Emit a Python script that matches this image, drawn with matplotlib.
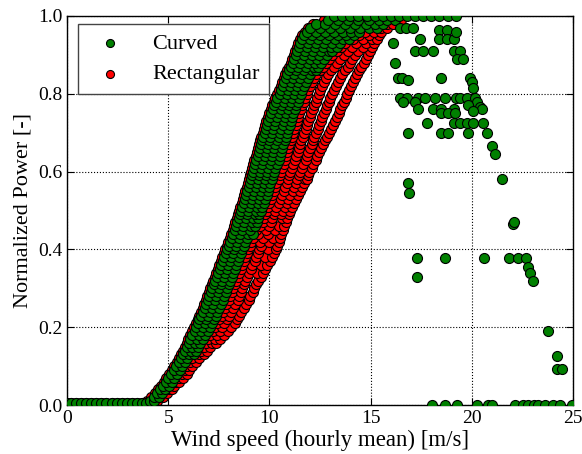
import matplotlib.pyplot as plt

plt.rcParams['font.family'] = ['Liberation Serif', 'DejaVu Serif']

# dense band, one row per power level: wind speeds
band_y = [0.01, 0.02, 0.03, 0.04, 0.05, 0.06, 0.07, 0.08, 0.09, 0.10,
          0.11, 0.12, 0.13, 0.14, 0.15, 0.16, 0.17, 0.18, 0.19, 0.20,
          0.21, 0.22, 0.23, 0.24, 0.25, 0.26, 0.27, 0.28, 0.29, 0.30,
          0.31, 0.32, 0.33, 0.34, 0.35, 0.36, 0.37, 0.38, 0.39, 0.40,
          0.41, 0.42, 0.43, 0.44, 0.45, 0.46, 0.47, 0.48, 0.49, 0.50,
          0.51, 0.52, 0.53, 0.54, 0.55, 0.56, 0.57, 0.58, 0.59, 0.60,
          0.61, 0.62, 0.63, 0.64, 0.65, 0.66, 0.67, 0.68, 0.69, 0.70,
          0.71, 0.72, 0.73, 0.74, 0.75, 0.76, 0.77, 0.78, 0.79, 0.80,
          0.81, 0.82, 0.83, 0.84, 0.85, 0.86, 0.87, 0.88, 0.89, 0.90,
          0.91, 0.92, 0.93, 0.94, 0.95, 0.96, 0.97, 0.98, 0.99, 1.0]

curved_x = [
    [4.1, 4.3], [4.3, 4.55], [4.45, 4.7], [4.6, 4.85], [4.75, 5.05],
    [4.9, 5.2], [5.0, 5.3], [5.15, 5.45], [5.3, 5.6], [5.4, 5.7],
    [5.55, 5.85], [5.65, 5.95], [5.75, 6.05, 6.25], [5.85, 6.15, 6.35],
    [5.95, 6.2, 6.45], [6.05, 6.3, 6.55], [6.1, 6.4, 6.7], [6.2, 6.5, 6.8],
    [6.3, 6.6, 6.95], [6.35, 6.7, 7.05], [6.45, 6.8, 7.15], [6.5, 6.85, 7.25],
    [6.6, 6.95, 7.35], [6.7, 7.05, 7.4], [6.8, 7.15, 7.5], [6.85, 7.2, 7.6],
    [6.95, 7.3, 7.7], [7.0, 7.35, 7.75], [7.1, 7.45, 7.85], [7.15, 7.5, 7.9],
    [7.25, 7.6, 8.0], [7.3, 7.65, 8.05], [7.4, 7.75, 8.15], [7.45, 7.8, 8.2],
    [7.55, 7.9, 8.3], [7.6, 7.95, 8.35], [7.7, 8.05, 8.45], [7.75, 8.1, 8.5],
    [7.85, 8.2, 8.6], [7.9, 8.25, 8.65], [8.0, 8.35, 8.75], [8.05, 8.4, 8.8],
    [8.15, 8.5, 8.9], [8.2, 8.55, 8.95, 9.2], [8.3, 8.65, 9.05],
    [8.35, 8.7, 9.1, 9.3], [8.4, 8.75, 9.15, 9.4], [8.5, 8.85, 9.2, 9.45],
    [8.55, 8.9, 9.3, 9.5], [8.6, 8.95, 9.35, 9.6], [8.65, 9.0, 9.4, 9.65],
    [8.75, 9.1, 9.45, 9.75], [8.8, 9.15, 9.5, 9.8], [8.85, 9.2, 9.55, 9.9],
    [8.9, 9.25, 9.6, 9.95], [9.0, 9.35, 9.7, 10.0], [9.05, 9.4, 9.75, 10.05],
    [9.1, 9.45, 9.8, 10.15], [9.15, 9.5, 9.85, 10.2], [9.2, 9.55, 9.9, 10.25],
    [9.25, 9.6, 9.95, 10.3], [9.3, 9.65, 10.05, 10.4], [9.35, 9.7, 10.1, 10.45],
    [9.45, 9.8, 10.15, 10.5], [9.5, 9.85, 10.2, 10.55], [9.55, 9.9, 10.25, 10.6],
    [9.6, 9.95, 10.3, 10.65], [9.65, 10.0, 10.4, 10.75], [9.7, 10.05, 10.45, 10.8],
    [9.8, 10.15, 10.5, 10.85], [9.85, 10.2, 10.55, 10.9], [9.9, 10.25, 10.65, 11.0],
    [9.95, 10.3, 10.7, 11.05], [10.05, 10.4, 10.75, 11.1], [10.1, 10.45, 10.8, 11.15],
    [10.2, 10.55, 10.9, 11.25], [10.25, 10.6, 10.95, 11.3], [10.35, 10.7, 11.05, 11.4],
    [10.4, 10.75, 11.1, 11.45], [10.5, 10.85, 11.2, 11.55], [10.55, 10.9, 11.25, 11.6],
    [10.65, 11.0, 11.35, 11.7], [10.7, 11.05, 11.4, 11.8], [10.8, 11.15, 11.5, 11.9],
    [10.85, 11.2, 11.6, 12.0], [10.95, 11.3, 11.7, 12.1, 12.3],
    [11.05, 11.4, 11.8, 12.2, 12.4], [11.15, 11.5, 11.9, 12.25, 12.55],
    [11.2, 11.6, 12.0, 12.35, 12.7], [11.3, 11.7, 12.1, 12.45, 12.85],
    [11.35, 11.75, 12.15, 12.55, 12.95, 13.1],
    [11.45, 11.85, 12.25, 12.65, 13.05, 13.35],
    [11.5, 11.9, 12.3, 12.7, 13.1, 13.5],
    [11.6, 12.0, 12.4, 12.8, 13.25, 13.65, 13.95],
    [11.7, 12.1, 12.5, 12.95, 13.4, 13.8, 14.2],
    [11.85, 12.3, 12.75, 13.2, 13.65, 14.05, 14.45],
    [12.0, 12.5, 13.0, 13.5, 14.0, 14.5, 14.9, 15.3],
    [12.3, 12.75, 13.25, 13.75, 14.25, 14.75, 15.2, 15.6],
    [12.9, 13.4, 13.9, 14.4, 14.9, 15.4, 15.8, 16.2],
    [13.2, 13.6, 14.0, 14.4, 14.8, 15.2, 15.6, 16.0, 16.4, 16.8, 17.2,
     17.6, 18.0, 18.4, 18.8, 19.2],
]

rect_x = [
    [3.95, 4.45], [4.15, 4.75], [4.35, 4.95], [4.5, 5.05, 5.2], [4.65, 5.3],
    [4.8, 5.4, 5.55], [4.9, 5.55, 5.75], [5.05, 5.7, 5.95], [5.2, 5.85, 6.05],
    [5.3, 5.95, 6.2], [5.45, 6.1, 6.35], [5.55, 6.2, 6.5], [5.65, 6.5, 6.75],
    [5.75, 6.6, 6.9], [5.85, 6.75, 7.05], [5.95, 6.85, 7.15, 7.35],
    [6.0, 6.95, 7.3, 7.55], [6.1, 7.05, 7.4, 7.75], [6.2, 7.2, 7.55, 7.95],
    [6.25, 7.3, 7.65, 8.1], [6.35, 7.4, 7.75, 8.3], [6.45, 7.5, 7.9, 8.4],
    [6.5, 7.65, 8.0, 8.5], [6.6, 7.7, 8.1, 8.6], [6.7, 7.8, 8.2, 8.75],
    [6.75, 7.85, 8.3, 8.85], [6.85, 8.0, 8.45, 9.0], [6.9, 8.05, 8.5, 9.05],
    [7.0, 8.15, 8.6, 9.2], [7.05, 8.2, 8.65, 9.25], [7.15, 8.3, 8.75, 9.35],
    [7.2, 8.35, 8.8, 9.45], [7.3, 8.45, 8.9, 9.6], [7.35, 8.5, 9.0, 9.4, 9.7],
    [7.45, 8.6, 9.1, 9.8], [7.5, 8.65, 9.15, 9.6, 9.9], [7.6, 8.75, 9.3, 10.05],
    [7.65, 8.8, 9.35, 9.8, 10.15], [7.75, 8.9, 9.45, 10.25],
    [7.8, 8.95, 9.5, 9.95, 10.35], [7.9, 9.05, 9.6, 10.4],
    [7.95, 9.1, 9.55, 10.0, 10.45], [8.05, 9.2, 9.7, 10.2, 10.5],
    [8.1, 9.45, 9.95, 10.55], [8.2, 9.35, 9.85, 10.3, 10.65],
    [8.25, 9.55, 10.0, 10.45, 10.7], [8.3, 9.7, 10.1, 10.8],
    [8.4, 9.75, 10.15, 10.6, 10.85], [8.45, 9.8, 10.25, 10.55, 10.95],
    [8.5, 9.9, 10.3, 10.65, 11.0], [8.55, 9.95, 10.35, 10.75, 11.1],
    [8.65, 10.0, 10.45, 10.85, 11.2], [8.7, 10.1, 10.55, 10.9, 11.3],
    [8.75, 10.15, 10.6, 11.0, 11.4], [8.8, 10.25, 10.7, 11.15, 11.5],
    [8.9, 10.3, 10.75, 11.2, 11.6], [8.95, 10.35, 10.85, 11.3, 11.7],
    [9.0, 10.45, 10.9, 11.35, 11.75, 11.85], [9.05, 10.5, 10.95, 11.45, 11.9],
    [9.1, 10.55, 11.0, 11.5, 11.95], [9.15, 10.6, 11.1, 11.6, 12.1],
    [9.2, 10.7, 11.15, 11.65, 12.15], [9.25, 10.75, 11.25, 11.8, 12.3],
    [9.35, 10.8, 11.3, 11.85, 12.35], [9.4, 10.85, 11.4, 11.9, 12.45],
    [9.45, 10.9, 11.45, 12.0, 12.55], [9.5, 10.95, 11.5, 12.1, 12.65],
    [9.55, 11.05, 11.55, 12.15, 12.75], [9.6, 11.1, 11.65, 12.2, 12.85],
    [9.7, 11.15, 11.7, 12.3, 12.95], [9.75, 11.2, 11.8, 12.4, 13.05],
    [9.8, 11.3, 11.85, 12.45, 13.15], [9.85, 11.35, 11.9, 12.55, 13.25],
    [9.95, 11.4, 12.0, 12.6, 13.35], [10.0, 11.45, 12.05, 12.7, 13.45],
    [10.1, 11.55, 12.15, 12.8, 13.5], [10.15, 11.6, 12.2, 12.85, 13.6],
    [10.25, 11.7, 12.3, 12.95, 13.7], [10.3, 11.75, 12.35, 13.0, 13.8],
    [10.4, 11.85, 12.45, 13.1, 13.85], [10.45, 11.9, 12.5, 13.2, 13.95],
    [10.55, 12.0, 12.6, 13.3, 14.05], [10.6, 12.1, 12.7, 13.4, 14.15],
    [10.7, 12.2, 12.8, 13.5, 14.25], [10.75, 12.3, 12.9, 13.6, 14.35],
    [10.85, 12.5, 13.05, 13.75, 14.45], [10.95, 12.65, 13.2, 13.9, 14.55],
    [11.05, 12.8, 13.35, 14.0, 14.65], [11.1, 12.95, 13.5, 14.1, 14.75],
    [11.2, 13.1, 13.7, 14.25, 14.85], [11.25, 13.35, 13.9, 14.4, 14.95],
    [11.35, 13.55, 14.1, 14.6, 15.05], [11.4, 13.75, 14.3, 14.75, 15.15],
    [11.5, 14.15, 14.6, 15.05, 15.3], [11.6, 14.45, 14.9, 15.4],
    [11.75, 14.7, 15.15, 15.5], [11.9, 15.5, 15.8], [12.15, 15.8, 16.1],
    [12.7, 16.3, 16.5], [],
]

# below cut-in: both layouts sit on (almost) zero
calm_x = [0.0, 0.2, 0.45, 0.7, 0.95, 1.2, 1.45, 1.7, 1.95, 2.2, 2.45,
          2.7, 2.95, 3.2, 3.45, 3.7, 3.9]
calm_y = [0.004] * len(calm_x)

# curtailed / storm hours for the curved layout
tail_x = [16.45, 16.75, 17.1, 16.1, 16.2, 16.35, 16.55, 16.85, 17.45, 17.2,
          17.6, 18.1, 18.4, 18.75, 18.4, 18.75, 19.1, 19.2, 19.1, 19.4,
          19.25, 19.55, 18.5, 19.9, 20.0, 20.05, 16.45, 16.8, 17.35, 17.7,
          18.2, 18.7, 19.2, 19.4, 19.75, 16.6, 17.2, 20.15, 20.25, 20.4,
          20.5, 17.35, 18.1, 18.5, 19.1, 19.8, 20.05, 18.5, 18.8, 19.15,
          17.8, 19.1, 19.4, 19.75, 20.05, 20.55, 16.85, 18.5, 18.8, 19.8,
          20.75, 21.0, 21.15, 21.5, 16.85, 16.9, 22.05, 22.1, 17.3, 18.7,
          20.6, 21.85, 22.3, 22.7, 22.8, 22.9, 23.0, 17.3, 23.75, 24.2,
          24.2, 24.45, 18.05, 18.7, 19.25, 20.25, 20.8, 21.0, 22.15, 22.55,
          22.8, 23.05, 23.25, 23.6, 24.0, 24.35, 24.95]
tail_y = [0.97, 0.97, 0.97, 0.93, 0.88, 0.84, 0.84, 0.835, 0.94, 0.91,
          0.91, 0.91, 0.965, 0.965, 0.94, 0.94, 0.94, 0.96, 0.91, 0.91,
          0.89, 0.89, 0.84, 0.84, 0.83, 0.815, 0.79, 0.79, 0.79, 0.79,
          0.79, 0.79, 0.79, 0.79, 0.79, 0.78, 0.78, 0.79, 0.78, 0.765,
          0.76, 0.76, 0.76, 0.76, 0.76, 0.77, 0.755, 0.75, 0.75, 0.75,
          0.725, 0.725, 0.725, 0.725, 0.725, 0.725, 0.70, 0.70, 0.70, 0.70,
          0.70, 0.665, 0.645, 0.58, 0.57, 0.545, 0.465, 0.47, 0.378, 0.378,
          0.378, 0.378, 0.378, 0.378, 0.355, 0.34, 0.32, 0.33, 0.19, 0.125,
          0.092, 0.092, 0.0, 0.0, 0.0, 0.0, 0.0, 0.0, 0.0, 0.0,
          0.0, 0.0, 0.0, 0.0, 0.0, 0.0, 0.0]

cx = calm_x + [x for row in curved_x for x in row] + tail_x
cy = calm_y + [y for y, row in zip(band_y, curved_x) for x in row] + tail_y
rx = calm_x + [x for row in rect_x for x in row]
ry = calm_y + [y for y, row in zip(band_y, rect_x) for x in row]

fig = plt.figure(figsize=(5.82, 4.54), dpi=100)
ax = fig.add_axes([67 / 582, 1 - 405 / 454, 506 / 582, 389 / 454])

ms = 52
r = ax.scatter(rx, ry, s=ms, c='red', edgecolors='black', linewidths=0.8,
               label='Rectangular', zorder=2)
g = ax.scatter(cx, cy, s=ms, c='green', edgecolors='black', linewidths=0.8,
               label='Curved', zorder=3)

ax.set_xlim(0, 25)
ax.set_ylim(0, 1.0)
ax.set_xticks([0, 5, 10, 15, 20, 25])
ax.set_yticks([0.0, 0.2, 0.4, 0.6, 0.8, 1.0])
ax.set_yticklabels(['0.0', '0.2', '0.4', '0.6', '0.8', '1.0'])
ax.grid(True, color='black', linestyle=':', linewidth=0.8)
ax.set_axisbelow(True)
ax.tick_params(direction='in', top=True, right=True, labelsize=14, length=5)
for s in ax.spines.values():
    s.set_linewidth(1.0)
ax.set_xlabel('Wind speed (hourly mean) [m/s]', fontsize=16.5, labelpad=2)
ax.set_ylabel('Normalized Power [-]', fontsize=16, labelpad=4)

leg = ax.legend([g, r], ['Curved', 'Rectangular'], loc='upper left',
                bbox_to_anchor=(0.0, 1.008),
                scatterpoints=1, fontsize=16, fancybox=False, framealpha=1,
                edgecolor='#444444', markerscale=0.8, borderaxespad=0.5,
                handletextpad=0.9, labelspacing=0.45, borderpad=0.42)
leg.get_frame().set_linewidth(1.0)
leg.set_zorder(5)

fig.savefig('out.png', dpi=100)
